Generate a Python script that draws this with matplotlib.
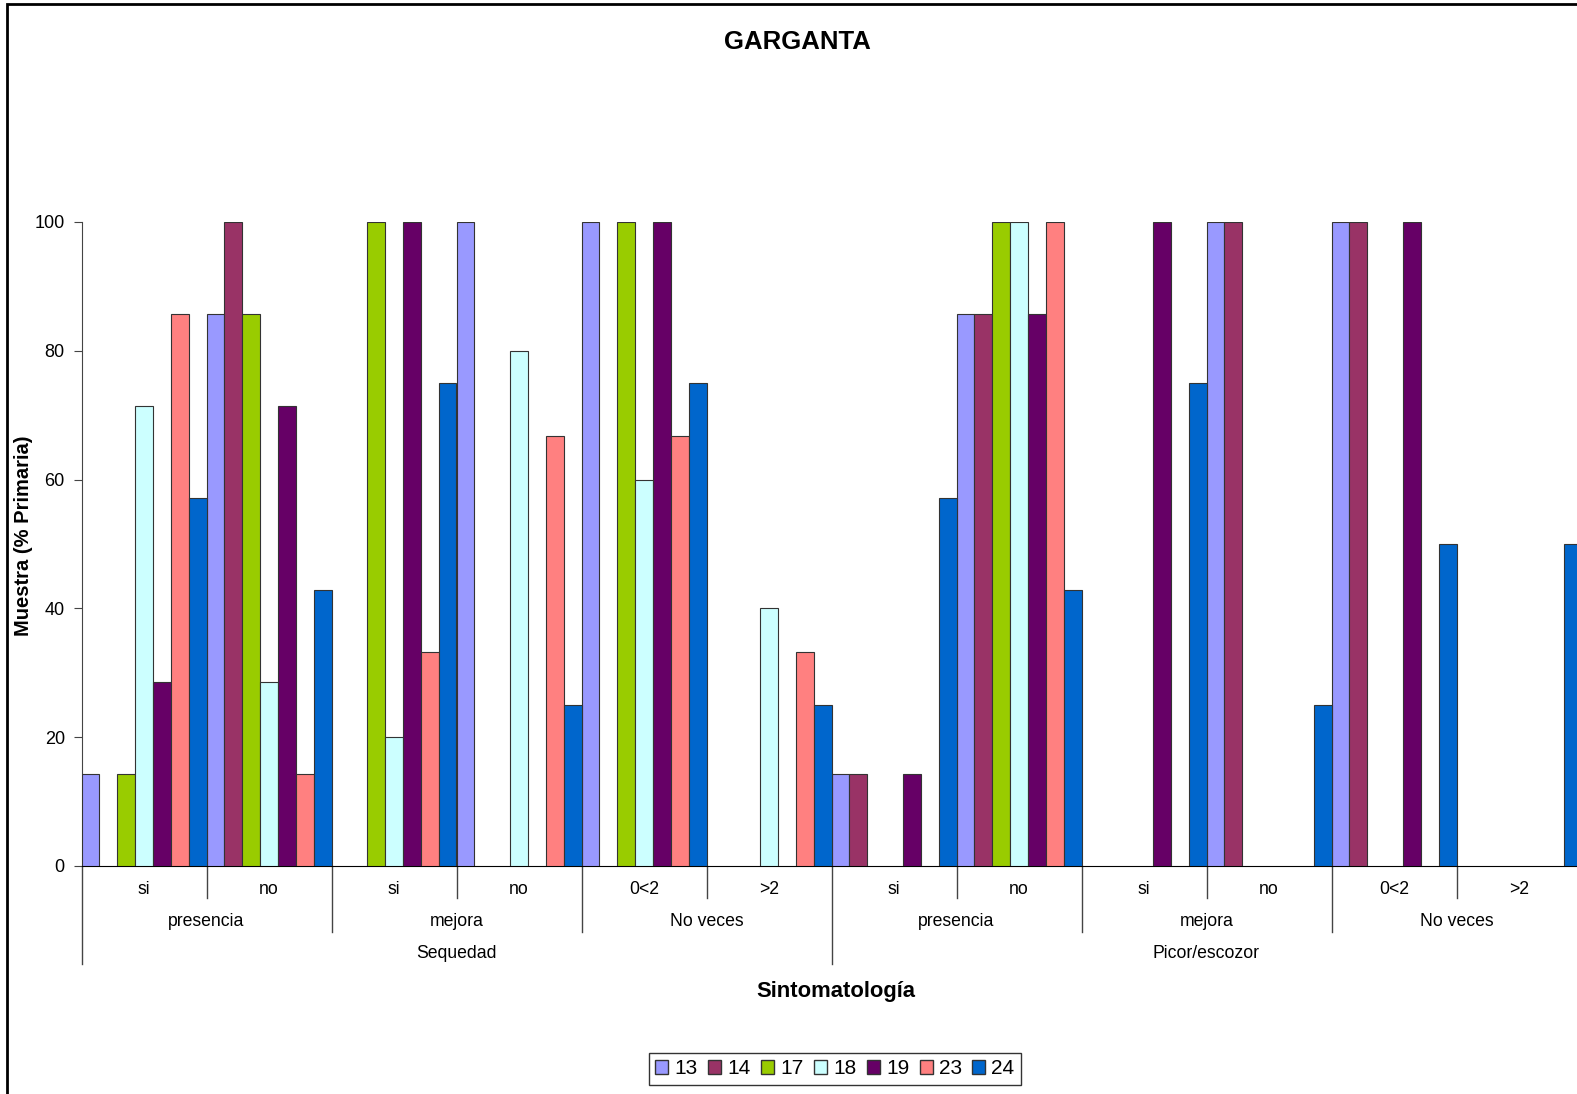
import numpy as np
import matplotlib.pyplot as plt
from matplotlib.patches import Patch, Rectangle
import matplotlib.transforms as mtransforms

plt.rcParams['font.family'] = ['Liberation Sans', 'DejaVu Sans']

# level 1 / 2 / 3 category labels
sub_labels = ["si", "no", "si", "no", "0<2", ">2", "si", "no", "si", "no", "0<2", ">2"]
mid_labels = ["presencia", "mejora", "No veces", "presencia", "mejora", "No veces"]
top_labels = ["Sequedad", "Picor/escozor"]

series_names = ["13", "14", "17", "18", "19", "23", "24"]
s13 = [14.3, 85.7, 0, 100, 100, 0, 14.3, 85.7, 0, 100, 100, 0]
s14 = [0, 100, 0, 0, 0, 0, 14.3, 85.7, 0, 100, 100, 0]
s17 = [14.3, 85.7, 100, 0, 100, 0, 0, 100, 0, 0, 0, 0]
s18 = [71.4, 28.6, 20, 80, 60, 40, 0, 100, 0, 0, 0, 0]
s19 = [28.6, 71.4, 100, 0, 100, 0, 14.3, 85.7, 100, 0, 100, 0]
s23 = [85.7, 14.3, 33.3, 66.7, 66.7, 33.3, 0, 100, 0, 0, 0, 0]
s24 = [57.1, 42.9, 75, 25, 75, 25, 57.1, 42.9, 75, 25, 50, 50]
series_values = [s13, s14, s17, s18, s19, s23, s24]

colors = ["#9999FF", "#993366", "#99CC00", "#CCFFFF", "#660066", "#FF8080", "#0066CC"]

W, H = 1577, 1094
fig = plt.figure(figsize=(W / 100, H / 100), dpi=100)
# chart border (cropped on the right and bottom in the original)
fig.patches.append(Rectangle((7 / W, -0.05), 1.2, (H - 4) / H + 0.05,
                             transform=fig.transFigure, fill=False,
                             edgecolor="black", linewidth=2))
# plot area runs slightly past the right edge of the picture
ax = fig.add_axes([81.5 / W, (H - 866) / H, 1500 / W, 644 / H])

n_cat = len(sub_labels)
n_ser = len(series_names)
w = 1.0 / n_ser
x = np.arange(n_cat)
for j, (vals, col) in enumerate(zip(series_values, colors)):
    vals = np.array(vals, dtype=float)
    mask = vals > 0
    pos = x - 0.5 + w * (j + 0.5)
    ax.bar(pos[mask], vals[mask], width=w, color=col, edgecolor="#333333",
           linewidth=0.8, zorder=3)

ax.set_xlim(-0.5, n_cat - 0.5)
ax.set_ylim(0, 100)
ax.set_yticks([0, 20, 40, 60, 80, 100])
ax.tick_params(axis="y", labelsize=13, length=6, width=0.8, color="#444444", pad=6)
ax.set_xticks([])
for side in ("top", "right"):
    ax.spines[side].set_visible(False)
ax.spines["left"].set_color("#444444")
ax.spines["bottom"].set_color("black")

# multi-level category axis
trans = mtransforms.blended_transform_factory(ax.transData, ax.transAxes)
px = 1.0 / 644
for b in range(n_cat + 1):
    xb = b - 0.5
    if b % 6 == 0:
        yb = -98 * px
    elif b % 2 == 0:
        yb = -66 * px
    else:
        yb = -32 * px
    ax.plot([xb, xb], [0, yb], transform=trans, color="#444444", lw=1, clip_on=False)

for i, lab in enumerate(sub_labels):
    ax.text(i, -23 * px, lab, transform=trans, ha="center", va="center", fontsize=12.7)
for k, lab in enumerate(mid_labels):
    ax.text(2 * k + 0.5, -55 * px, lab, transform=trans, ha="center", va="center", fontsize=12.7)
for k, lab in enumerate(top_labels):
    ax.text(6 * k + 2.5, -88 * px, lab, transform=trans, ha="center", va="center", fontsize=12.7)

fig.text(797 / W, 1 - 42 / H, "GARGANTA", ha="center", va="center",
         fontsize=18.5, fontweight="bold")
fig.text(836 / W, 1 - 992 / H, "Sintomatología", ha="center", va="center",
         fontsize=15.8, fontweight="bold")
fig.text(24 / W, 1 - 536 / H, "Muestra (% Primaria)", ha="center", va="center",
         rotation=90, fontsize=14.5, fontweight="bold")

handles = [Patch(facecolor=c, edgecolor="#333333", label=n) for c, n in zip(colors, series_names)]
leg = fig.legend(handles=handles, loc="center", bbox_to_anchor=(835 / W, 1 - 1069 / H),
                 ncol=7, fontsize=15, frameon=True, fancybox=False, handlelength=0.62,
                 handleheight=0.62, handletextpad=0.3, columnspacing=0.5,
                 borderpad=0.3, borderaxespad=0)
leg.get_frame().set_edgecolor("black")
leg.get_frame().set_linewidth(1)

fig.savefig("out.png", dpi=100)
